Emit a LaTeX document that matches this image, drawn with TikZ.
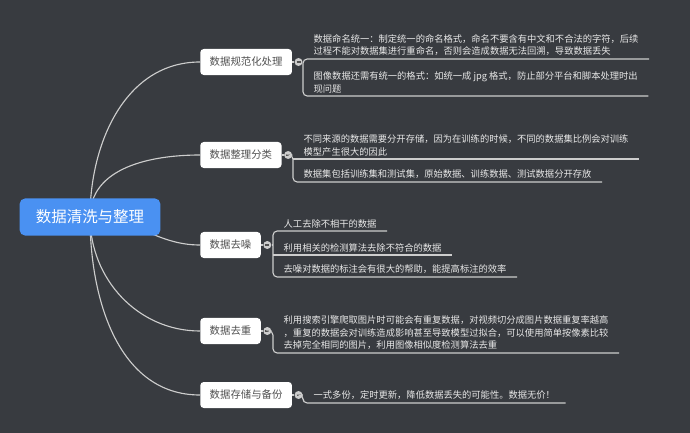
\documentclass[tikz,border=0pt]{standalone}
\usepackage{fontspec}
\setmainfont{Noto Sans CJK SC}
\usetikzlibrary{positioning,backgrounds}

\definecolor{bgdark}{RGB}{56,59,64}
\definecolor{rootblue}{RGB}{74,145,242}
\definecolor{linkgray}{RGB}{205,205,205}
\definecolor{leaftext}{RGB}{232,232,232}
\definecolor{boxtext}{RGB}{80,80,80}

\begin{document}
\begin{tikzpicture}[
  x=0.025cm, y=0.025cm,
  root/.style={rectangle, fill=rootblue, rounded corners=4pt, text=white, font=\fontsize{11}{13}\selectfont, minimum width=3.52cm, minimum height=0.93cm},
  topic/.style={rectangle, anchor=west, fill=white, rounded corners=2.5pt, text=boxtext, font=\fontsize{7.4}{9}\selectfont, inner xsep=6.7pt, minimum height=0.65cm},
  fold/.style={circle, fill=linkgray, minimum size=0.2cm, inner sep=0pt,
    path picture={\draw[boxtext, line width=0.8pt] ([xshift=-1.4pt]path picture bounding box.center) -- ([xshift=1.4pt]path picture bounding box.center);}},
  leaf/.style={anchor=south west, align=left, text=leaftext, font=\fontsize{6.6}{9}\selectfont, inner xsep=0.26cm, inner ysep=2pt},
  link/.style={draw=linkgray, line width=0.8pt},
  bracket/.style={link, rounded corners=3pt},
]

% === ROOT AND TOPICS ===
\node[root] (root) at (90,-217) {数据清洗与整理};

\node[topic] (norm) at (200,-62) {数据规范化处理};
\node[topic] (sort) at (200,-155) {数据整理分类};
\node[topic] (denoise) at (200,-245) {数据去噪};
\node[topic] (dedup) at (200,-331) {数据去重};
\node[topic] (store) at (200,-395) {数据存储与备份};

\node[fold, right=0.05cm of norm] (normfold) {};
\node[fold, right=0.05cm of sort] (sortfold) {};
\node[fold, right=0.05cm of denoise] (denfold) {};
\node[fold, right=0.05cm of dedup] (dupfold) {};
\node[fold, right=0.05cm of store] (stofold) {};

% === LEAVES ===
\node[leaf] (norm1) at (303,-59) {数据命名统一：制定统一的命名格式，命名不要含有中文和不合法的字符，后续\\过程不能对数据集进行重命名，否则会造成数据无法回溯，导致数据丢失};
\node[leaf] (norm2) at (303,-96) {图像数据还需有统一的格式：如统一成 jpg 格式，防止部分平台和脚本处理时出\\现问题};

\node[leaf] (sort1) at (293,-159) {不同来源的数据需要分开存储，因为在训练的时候，不同的数据集比例会对训练\\模型产生很大的因此};
\node[leaf] (sort2) at (293,-182) {数据集包括训练集和测试集，原始数据、训练数据、测试数据分开存放};

\node[leaf] (den1) at (273,-231) {人工去除不相干的数据};
\node[leaf] (den2) at (273,-255) {利用相关的检测算法去除不符合的数据};
\node[leaf] (den3) at (273,-277) {去噪对数据的标注会有很大的帮助，能提高标注的效率};

\node[leaf] (dup1) at (273,-353) {利用搜索引擎爬取图片时可能会有重复数据，对视频切分成图片数据重复率越高\\，重复的数据会对训练造成影响甚至导致模型过拟合，可以使用简单按像素比较\\去掉完全相同的图片，利用图像相似度检测算法去重};

\node[leaf] (sto1) at (303,-403) {一式多份，定时更新，降低数据丢失的可能性。数据无价！};

% === BRACKETS ===
\draw[link] (norm) -- (normfold);
\draw[link] (normfold.east) -- (normfold.east -| norm1.west);
\draw[bracket] (norm1.south east) -- (norm1.south west) -- (norm2.south west) -- (norm2.south east);

\draw[link] (sort) -- (sortfold);
\draw[bracket] (sortfold.east) -- (sortfold.east -| sort1.west) -- (sort2.south west) -- (sort2.south east);
\draw[link] (sort1.south west) -- (sort1.south east);

\draw[link] (denoise) -- (denfold);
\draw[link] (denfold.east) -- (denfold.east -| den2.west);
\draw[bracket] (den1.south east) -- (den1.south west) -- (den3.south west) -- (den3.south east);
\draw[link] (den2.south west) -- (den2.south east);

\draw[link] (dedup) -- (dupfold);
\draw[bracket] (dupfold.east) -- (dupfold.east -| dup1.west) -- (dup1.south west) -- (dup1.south east);

\draw[link] (store) -- (stofold);
\draw[bracket] (stofold.east) -- (stofold.east -| sto1.west) -- (sto1.south west) -- (sto1.south east);

% curves behind the root
\begin{scope}[on background layer]
\fill[bgdark] (0,0) rectangle (690,-433);
\draw[link] (root.center) to[out=90,in=180] (norm.west);
\draw[link] (root.center) to[out=90,in=180] (sort.west);
\draw[link] (root.center) to[out=0,in=180] (denoise.west);
\draw[link] (root.center) to[out=-90,in=180] (dedup.west);
\draw[link] (root.center) to[out=-90,in=180] (store.west);
\end{scope}
\end{tikzpicture}
\end{document}
